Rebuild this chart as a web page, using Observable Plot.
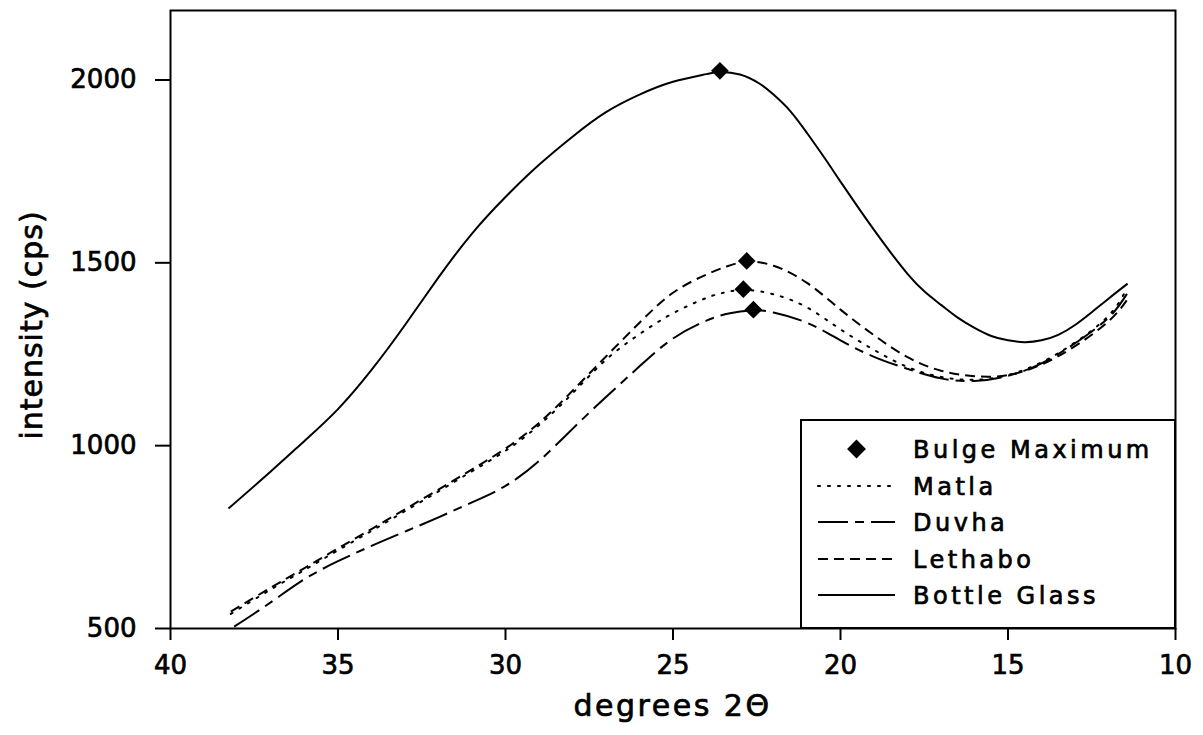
<!DOCTYPE html>
<html>
<head>
<meta charset="utf-8">
<script src="https://cdn.jsdelivr.net/npm/d3@7"></script>
<script src="https://cdn.jsdelivr.net/npm/@observablehq/plot@0.6"></script>
<style>
  html, body { margin: 0; padding: 0; background: #fff; }
  #wrap { position: relative; width: 1203px; height: 735px; }
  #legend { position: absolute; left: 0; top: 0; pointer-events: none; }
  svg text { font-family: "DejaVu Sans", sans-serif; stroke: black; stroke-width: 0.7px; fill: black; }
</style>
</head>
<body>
<div id="wrap"></div>
<script>
// ---- data (degrees 2θ, intensity cps) ----
const bottleX = [38.27, 37, 36, 35, 34, 33, 32, 31, 30, 29, 28, 27, 26, 25, 24, 23.6, 23, 22.4, 22, 21.5, 21, 20.5, 20, 19.5, 19, 18.5, 18, 17.5, 17, 16.5, 16, 15.5, 15, 14.5, 14, 13.5, 13, 12.5, 12, 11.43];
const bottleY = [828, 930, 1013, 1100, 1207, 1330, 1460, 1580, 1680, 1768, 1845, 1912, 1960, 1995, 2016, 2022, 2015, 1989, 1960, 1915, 1855, 1790, 1722, 1655, 1590, 1528, 1470, 1422, 1385, 1350, 1322, 1300, 1288, 1283, 1288, 1303, 1330, 1365, 1402, 1443];

const lethaboX = [38.2, 37, 36, 35, 34, 33, 32, 31, 30, 29, 28, 27, 26, 25, 24, 23.4, 22.8, 22, 21, 20, 19, 18, 17, 16, 15, 14, 13, 12, 11.45];
const lethaboY = [546, 612, 665, 719, 772, 826, 880, 935, 992, 1062, 1150, 1244, 1336, 1418, 1468, 1490, 1503, 1492, 1445, 1372, 1302, 1242, 1205, 1190, 1193, 1222, 1272, 1340, 1398];

const matlaX = [38.2, 37, 36, 35, 34, 33, 32, 31, 30, 29, 28, 27, 26, 25, 24, 23.5, 22.9, 22, 21, 20, 19, 18, 17, 16, 15, 14, 13, 12, 11.45];
const matlaY = [540, 607, 660, 714, 767, 821, 875, 930, 986, 1056, 1143, 1235, 1305, 1362, 1404, 1418, 1426, 1414, 1378, 1318, 1262, 1215, 1188, 1180, 1193, 1228, 1282, 1355, 1430];

const duvhaX = [38.1, 37, 36, 35, 34, 33, 32, 31, 30, 29, 28, 27, 26, 25, 24, 23.3, 22.6, 22, 21, 20, 19, 18, 17, 16, 15, 14, 13, 12, 11.45];
const duvhaY = [505, 572, 635, 684, 726, 765, 804, 845, 890, 958, 1046, 1133, 1217, 1293, 1342, 1362, 1370, 1364, 1336, 1288, 1243, 1210, 1184, 1177, 1191, 1225, 1280, 1350, 1415];

const maxSeries = ["Bottle Glass", "Lethabo", "Matla", "Duvha"];
const maxX = [23.6, 22.8, 22.9, 22.6];
const maxY = [2025, 1505, 1428, 1372];

const xTicks = [40, 35, 30, 25, 20, 15, 10];
const yTicks = [500, 1000, 1500, 2000];

const seriesNames = ["Matla", "Duvha", "Lethabo", "Bottle Glass"];
const dashes = {"Matla": "2,8", "Duvha": "30,7,9,7", "Lethabo": "10,6", "Bottle Glass": null};
const caps = {"Matla": "round", "Duvha": "butt", "Lethabo": "butt", "Bottle Glass": "butt"};

const toRows = (name, xs, ys) => xs.map((x, i) => ({series: name, x, y: ys[i]}));
const seriesData = {
  "Matla": toRows("Matla", matlaX, matlaY),
  "Duvha": toRows("Duvha", duvhaX, duvhaY),
  "Lethabo": toRows("Lethabo", lethaboX, lethaboY),
  "Bottle Glass": toRows("Bottle Glass", bottleX, bottleY)
};
const maxima = maxSeries.map((s, i) => ({series: s, x: maxX[i], y: maxY[i]}));

const W = 1203, H = 735;
const font = "DejaVu Sans, sans-serif";

const lineMarks = seriesNames.map(name => Plot.line(seriesData[name], {
  x: "x", y: "y", curve: "natural", stroke: "black", strokeWidth: 2,
  strokeDasharray: dashes[name], strokeLinecap: caps[name]
}));

const plot = Plot.plot({
  width: W, height: H,
  marginLeft: 170, marginRight: 28, marginTop: 10, marginBottom: 107,
  style: {fontFamily: font, background: "white", color: "black"},
  x: {domain: [40, 10], ticks: xTicks, label: null},
  y: {domain: [500, 2190], ticks: yTicks, label: null},
  marks: [
    ...lineMarks,
    Plot.dot(maxima, {x: "x", y: "y", symbol: "diamond2", r: 8, fill: "black", stroke: "none"}),
    Plot.axisX({ticks: xTicks, tickSize: 12, tickPadding: 15, fontSize: 26, tickFormat: d => String(d), label: null, strokeWidth: 2}),
    Plot.axisY({ticks: yTicks, tickSize: 15, tickPadding: 19, fontSize: 26, tickFormat: d => String(d), label: null, strokeWidth: 2}),
    Plot.frame({stroke: "black", strokeWidth: 2})
  ]
});

document.getElementById("wrap").appendChild(plot);

// Axis titles + legend overlay
const svg = d3.select("#wrap").append("svg")
  .attr("id", "legend").attr("width", W).attr("height", H);

const frameL = 170, frameR = W - 28, frameT = 10, frameB = H - 107;

svg.append("text")
  .attr("x", (frameL + frameR) / 2).attr("y", 716)
  .attr("text-anchor", "middle")
  .style("font-size", "30px").style("letter-spacing", "2.5px")
  .text("degrees 2Θ");

svg.append("text")
  .attr("transform", `translate(42, ${325}) rotate(-90)`)
  .attr("text-anchor", "middle")
  .style("font-size", "30px").style("letter-spacing", "1px")
  .text("intensity (cps)");

// legend box
const lg = svg.append("g");
const boxL = 801, boxT = 420;
lg.append("rect").attr("x", boxL).attr("y", boxT)
  .attr("width", frameR - boxL).attr("height", frameB - boxT)
  .attr("fill", "white").attr("stroke", "black").attr("stroke-width", 2);

const legendItems = ["Bulge Maximum", ...seriesNames];
const rowY = [449, 486, 522, 559, 595];
const sampleL = 818, sampleR = 895, textX = 913;
legendItems.forEach((name, i) => {
  const y = rowY[i];
  if (i === 0) {
    lg.append("path")
      .attr("d", d3.symbol(d3.symbolDiamond2, Math.PI * 72)())
      .attr("transform", `translate(${(sampleL + sampleR) / 2},${y})`)
      .attr("fill", "black");
  } else {
    lg.append("line").attr("x1", sampleL).attr("x2", sampleR)
      .attr("y1", y).attr("y2", y)
      .attr("stroke", "black").attr("stroke-width", 2)
      .attr("stroke-dasharray", dashes[name])
      .attr("stroke-linecap", caps[name]);
  }
  lg.append("text").attr("x", textX).attr("y", y)
    .attr("dy", "0.36em")
    .style("font-size", "24px").style("letter-spacing", "3.5px")
    .text(name);
});
</script>
</body>
</html>
